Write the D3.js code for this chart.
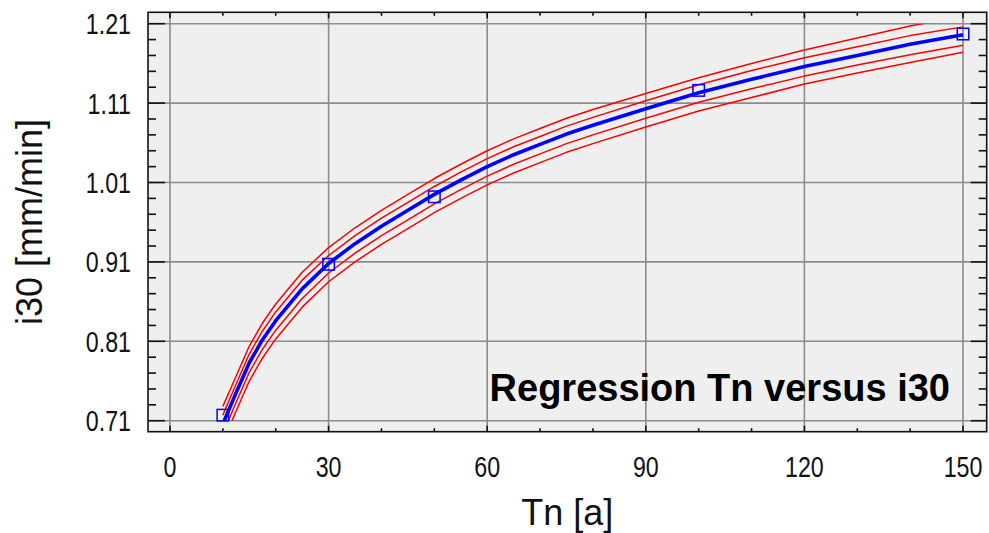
<!DOCTYPE html>
<html>
<head>
<meta charset="utf-8">
<script src="https://cdn.jsdelivr.net/npm/d3@7"></script>
<style>
  html, body { margin: 0; padding: 0; background: #ffffff; }
  svg { display: block; }
</style>
</head>
<body>
<svg id="chart" width="989" height="533"></svg>
<script>
// ---- data ----
const tn          = [10, 12.5, 15, 17.5, 20, 25, 30, 35, 40, 45, 50, 55, 60, 65, 70, 75, 80, 90, 100, 110, 120, 130, 140, 150];
const fitValues   = [0.706, 0.745, 0.783, 0.812, 0.836, 0.876, 0.908, 0.933, 0.955, 0.975, 0.995, 1.013, 1.030, 1.045, 1.058, 1.071, 1.082, 1.103, 1.123, 1.140, 1.156, 1.170, 1.184, 1.196];
const upperOuter  = [0.728, 0.766, 0.804, 0.833, 0.857, 0.897, 0.928, 0.953, 0.975, 0.995, 1.015, 1.033, 1.050, 1.065, 1.078, 1.091, 1.102, 1.122, 1.142, 1.160, 1.177, 1.192, 1.207, 1.220];
const upperInner  = [0.717, 0.756, 0.794, 0.823, 0.847, 0.887, 0.918, 0.943, 0.965, 0.985, 1.005, 1.023, 1.040, 1.055, 1.068, 1.081, 1.092, 1.113, 1.133, 1.151, 1.167, 1.181, 1.195, 1.206];
const lowerInner  = [0.694, 0.733, 0.771, 0.800, 0.824, 0.864, 0.896, 0.921, 0.943, 0.963, 0.983, 1.001, 1.018, 1.033, 1.046, 1.059, 1.070, 1.091, 1.111, 1.128, 1.144, 1.158, 1.171, 1.183];
const lowerOuter  = [0.683, 0.722, 0.760, 0.789, 0.813, 0.853, 0.885, 0.910, 0.932, 0.952, 0.972, 0.990, 1.007, 1.022, 1.035, 1.048, 1.059, 1.080, 1.100, 1.117, 1.134, 1.148, 1.161, 1.174];
const obsTn       = [10, 30, 50, 100, 150];
const obsI30      = [0.717, 0.907, 0.992, 1.126, 1.197];
const xTickValues = [0, 30, 60, 90, 120, 150];
const xMinorTicks = [10, 20, 40, 50, 70, 80, 100, 110, 130, 140];
const yTickValues = [0.71, 0.81, 0.91, 1.01, 1.11, 1.21];
const yTickLabels = ["0.71", "0.81", "0.91", "1.01", "1.11", "1.21"];
const yMinorTicks = [0.73, 0.75, 0.77, 0.79, 0.83, 0.85, 0.87, 0.89, 0.93, 0.95, 0.97, 0.99,
                     1.03, 1.05, 1.07, 1.09, 1.13, 1.15, 1.17, 1.19];
const titleText = "Regression Tn versus i30";
const xLabel = "Tn [a]";
const yLabel = "i30 [mm/min]";

// ---- layout ----
const svg = d3.select("#chart");
const L = 148, R = 986.7, T = 12.3, B = 431.7;
const x = d3.scaleLinear().domain([-4.16, 154.48]).range([L, R]);
const y = d3.scaleLinear().domain([0.69615, 1.22436]).range([B, T]);

const tickFont = "'Liberation Sans', Arial, sans-serif";
const labelFont = "'Liberation Sans', Arial, sans-serif";
const narrow = 0.8;

// background
svg.append("rect").attr("x", L).attr("y", T).attr("width", R - L).attr("height", B - T).attr("fill", "#efefef");

// grid
const grid = svg.append("g").attr("stroke", "#8c8c8c").attr("stroke-width", 1.6);
grid.selectAll("line.gx").data(xTickValues).join("line")
  .attr("x1", d => x(d)).attr("x2", d => x(d)).attr("y1", T).attr("y2", B);
grid.selectAll("line.gy").data(yTickValues).join("line")
  .attr("x1", L).attr("x2", R).attr("y1", d => y(d)).attr("y2", d => y(d));

// clip for curves (value window 0.71 .. 1.21)
svg.append("clipPath").attr("id", "clip").append("rect")
  .attr("x", L).attr("width", R - L)
  .attr("y", y(1.21)).attr("height", y(0.71) - y(1.21));

const line = d3.line().x(d => x(d[0])).y(d => y(d[1]));
const curves = svg.append("g").attr("clip-path", "url(#clip)").attr("fill", "none");
[upperOuter, upperInner, lowerInner, lowerOuter].forEach(arr => {
  curves.append("path")
    .attr("d", line(tn.map((t, i) => [t, arr[i]])))
    .attr("stroke", "#ff0000").attr("stroke-width", 1.5).attr("stroke-linejoin", "round");
});
curves.append("path")
  .attr("d", line(tn.map((t, i) => [t, fitValues[i]])))
  .attr("stroke", "#0000ff").attr("stroke-width", 3.6).attr("stroke-linejoin", "round");

// observation squares
const sq = 11.5;
svg.append("g").selectAll("rect").data(obsTn).join("rect")
  .attr("x", (d) => x(d) - sq / 2)
  .attr("y", (d, i) => y(obsI30[i]) - sq / 2)
  .attr("width", sq).attr("height", sq)
  .attr("fill", "none").attr("stroke", "#0000ff").attr("stroke-width", 1.5);

// title
svg.append("text").attr("x", 950).attr("y", 400.7)
  .attr("text-anchor", "end")
  .attr("font-family", labelFont).attr("font-weight", "bold").attr("font-size", 38)
  .attr("fill", "#000").text(titleText);

// ticks
const ticks = svg.append("g").attr("stroke", "#111").attr("stroke-width", 1.6);
ticks.selectAll("line.ly").data(yTickValues).join("line")
  .attr("x1", L).attr("x2", L + 17).attr("y1", d => y(d)).attr("y2", d => y(d));
ticks.selectAll("line.lym").data(yMinorTicks).join("line")
  .attr("x1", L).attr("x2", L + 8).attr("y1", d => y(d)).attr("y2", d => y(d));
ticks.selectAll("line.ry").data(yTickValues).join("line")
  .attr("x1", R).attr("x2", R - 16).attr("y1", d => y(d)).attr("y2", d => y(d));
ticks.selectAll("line.rym").data(yMinorTicks).join("line")
  .attr("x1", R).attr("x2", R - 8).attr("y1", d => y(d)).attr("y2", d => y(d));
ticks.selectAll("line.bx").data(xTickValues).join("line")
  .attr("x1", d => x(d)).attr("x2", d => x(d)).attr("y1", B).attr("y2", B - 6);
ticks.selectAll("line.bxm").data(xMinorTicks).join("line")
  .attr("x1", d => x(d)).attr("x2", d => x(d)).attr("y1", B).attr("y2", B - 3.5);
ticks.selectAll("line.tx").data(xTickValues).join("line")
  .attr("x1", d => x(d)).attr("x2", d => x(d)).attr("y1", T).attr("y2", T + 6);
ticks.selectAll("line.txm").data(xMinorTicks).join("line")
  .attr("x1", d => x(d)).attr("x2", d => x(d)).attr("y1", T).attr("y2", T + 3.5);

// frame
svg.append("rect").attr("x", L).attr("y", T).attr("width", R - L).attr("height", B - T)
  .attr("fill", "none").attr("stroke", "#111").attr("stroke-width", 1.6);

// tick labels (condensed)
svg.append("g").selectAll("text").data(yTickValues).join("text")
  .attr("transform", d => `translate(131, ${y(d) + 10.5}) scale(${narrow}, 1)`)
  .attr("text-anchor", "end")
  .attr("font-family", tickFont).attr("font-size", 29).attr("fill", "#111")
  .text((d, i) => yTickLabels[i]);
svg.append("g").selectAll("text").data(xTickValues).join("text")
  .attr("transform", d => `translate(${x(d)}, 476.7) scale(${narrow}, 1)`)
  .attr("text-anchor", "middle")
  .attr("font-family", tickFont).attr("font-size", 29).attr("fill", "#111")
  .text(d => String(d));

// axis labels
svg.append("text").attr("x", (L + R) / 2).attr("y", 525)
  .attr("text-anchor", "middle")
  .attr("font-family", labelFont).attr("font-size", 36).attr("fill", "#111")
  .text(xLabel);
svg.append("text")
  .attr("transform", `translate(42, ${(T + B) / 2}) rotate(-90)`)
  .attr("text-anchor", "middle")
  .attr("font-family", labelFont).attr("font-size", 36).attr("fill", "#111")
  .text(yLabel);
</script>
</body>
</html>
